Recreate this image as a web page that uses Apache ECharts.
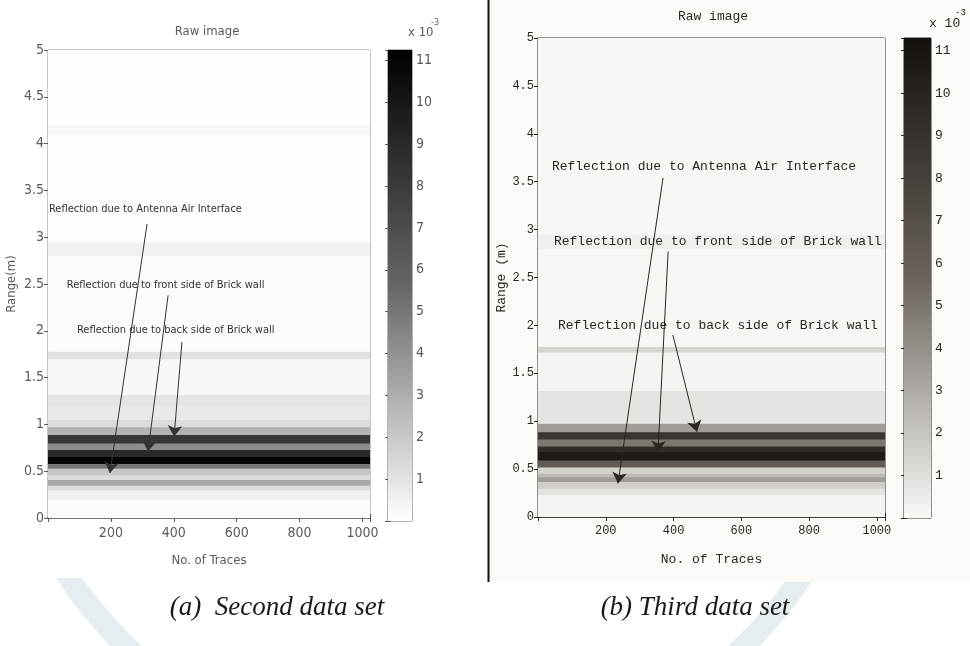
<!DOCTYPE html>
<html>
<head>
<meta charset="utf-8">
<script src="https://cdn.jsdelivr.net/npm/echarts@6/dist/echarts.min.js"></script>
<style>
  html, body { margin: 0; padding: 0; background: #fff; }
  #main { width: 970px; height: 646px; }
</style>
</head>
<body>
<div id="main"></div>
<script>
// traces along x, range (m) along y, amplitude in units of 1e-3
var traceSpan = [0, 1024];
var traceTicks = [200, 400, 600, 800, 1000];
var colorTicks = [1, 2, 3, 4, 5, 6, 7, 8, 9, 10, 11];

// (a) second data set: band edges (m) and amplitude of each band
var edgesA = [0, 0.20, 0.30, 0.35, 0.41, 0.46, 0.53, 0.58, 0.655, 0.73, 0.80, 0.89, 0.975,
  1.05, 1.20, 1.32, 1.70, 1.78, 2.80, 2.95, 4.10, 4.20, 5.00];
var ampA = [0.2, 0.6, 1.3, 3.2, 1.3, 2.1, 5.0, 11.0, 9.0, 4.2, 8.2, 2.8, 1.3,
  0.8, 0.97, 0.3, 1.1, 0.15, 0.5, 0.08, 0.3, 0.05];
var cmaxA = 11.25;

// (b) third data set
var edgesB = [0, 0.23, 0.30, 0.37, 0.42, 0.456, 0.52, 0.595, 0.68, 0.74, 0.81, 0.89, 0.978,
  1.32, 1.72, 1.78, 2.80, 2.95, 5.00];
var ampB = [0.2, 0.9, 1.6, 3.5, 2.4, 1.5, 6.2, 10.6, 9.4, 4.9, 8.8, 3.5,
  0.8, 0.2, 1.4, 0.12, 0.4, 0.08];
var cmaxB = 11.3;

// annotation: [label, text anchor [trace, range], arrow start, arrow end]
var notesA = [
  ['Reflection due to Antenna Air Interface', [3, 3.30], [315, 3.14], [197, 0.48]],
  ['Reflection due to front side of Brick wall', [60, 2.49], [382, 2.38], [318, 0.71]],
  ['Reflection due to back side of Brick wall', [92, 2.01], [426, 1.88], [401, 0.87]]
];
var notesB = [
  ['Reflection due to Antenna Air Interface', [41, 3.66], [369, 3.54], [236, 0.35]],
  ['Reflection due to front side of Brick wall', [47, 2.87], [384, 2.77], [354, 0.68]],
  ['Reflection due to back side of Brick wall', [59, 2.00], [398, 1.90], [469, 0.89]]
];

var grayA = ['#ffffff', '#666666', '#000000'];
var grayB = ['#fbf9f6', '#6a635d', '#14100d'];

var fontA = '"Liberation Sans Narrow", "DejaVu Sans Condensed", "Liberation Sans", sans-serif';
var fontB = '"Liberation Mono", "DejaVu Sans Mono", monospace';

function bands(edges, amp) {
  var out = [];
  for (var i = 0; i < amp.length; i++) out.push([edges[i], edges[i + 1], amp[i]]);
  return out;
}

function bandItem(params, api) {
  var p0 = api.coord([traceSpan[0], api.value(1)]);
  var p1 = api.coord([traceSpan[1], api.value(0)]);
  return {
    type: 'rect',
    shape: { x: p0[0], y: p0[1], width: p1[0] - p0[0], height: p1[1] - p0[1] + 0.4 },
    style: { fill: api.visual('color') }
  };
}

function cbarItem(colors) {
  return function (params, api) {
    var p0 = api.coord([0, api.value(1)]);
    var p1 = api.coord([1, api.value(0)]);
    return {
      type: 'rect',
      shape: { x: p0[0], y: p0[1], width: p1[0] - p0[0], height: p1[1] - p0[1] },
      style: {
        fill: new echarts.graphic.LinearGradient(0, 0, 0, 1, [
          { offset: 0, color: colors[2] }, { offset: 0.5, color: colors[1] }, { offset: 1, color: colors[0] }
        ])
      }
    };
  };
}

function traceLabel(v) { return traceTicks.indexOf(v) >= 0 ? String(v) : ''; }
function colorLabel(v) { return colorTicks.indexOf(Math.round(v * 1000) / 1000) >= 0 ? String(v) : ''; }

function notesSeries(notes, xi, yi, font, size, color) {
  return {
    type: 'scatter', xAxisIndex: xi, yAxisIndex: yi, data: [], silent: true,
    markLine: {
      silent: true, animation: false,
      symbol: ['none', 'arrow'], symbolSize: 11,
      lineStyle: { color: color, width: 1, type: 'solid' },
      itemStyle: { color: color },
      label: { show: false },
      data: notes.map(function (n) { return [{ coord: n[2] }, { coord: n[3] }]; })
    },
    markPoint: {
      silent: true, animation: false, symbol: 'circle', symbolSize: 0,
      label: { show: true, position: 'right', distance: 0, formatter: '{b}',
        color: color, fontFamily: font, fontSize: size },
      data: notes.map(function (n) { return { name: n[0], coord: n[1] }; })
    }
  };
}

function plotX(grid, pos, col, font, size, withLabels) {
  return {
    gridIndex: grid, type: 'value', position: pos, min: traceSpan[0], max: traceSpan[1], interval: 200,
    axisLine: { show: pos === 'bottom', lineStyle: { color: col, width: 1.5 } },
    axisTick: { show: true, inside: true, length: 4, lineStyle: { color: col } },
    axisLabel: { show: withLabels, formatter: traceLabel, color: col, fontFamily: font, fontSize: size, margin: 8 },
    splitLine: { show: false },
    name: withLabels ? 'No. of Traces' : '', nameLocation: 'middle', nameGap: 36,
    nameTextStyle: { color: col, fontFamily: font, fontSize: 13 }
  };
}

function plotY(grid, pos, col, font, size, withLabels, name, gap) {
  return {
    gridIndex: grid, type: 'value', position: pos, min: 0, max: 5, interval: 0.5,
    axisLine: { show: false },
    axisTick: { show: true, inside: true, length: 4, lineStyle: { color: col } },
    axisLabel: { show: withLabels, color: col, fontFamily: font, fontSize: size, margin: 4 },
    splitLine: { show: false },
    name: withLabels ? name : '', nameLocation: 'middle', nameGap: gap, nameRotate: 90,
    nameTextStyle: { color: col, fontFamily: font, fontSize: 13 }
  };
}

function cbarY(grid, pos, cmax, col, font, size, withLabels) {
  return {
    gridIndex: grid, type: 'value', position: pos, min: 0, max: cmax, interval: 1,
    axisLine: { show: false },
    axisTick: { show: true, inside: true, length: 3, lineStyle: { color: col } },
    axisLabel: { show: withLabels, formatter: colorLabel, color: col, fontFamily: font, fontSize: size, margin: 4 },
    splitLine: { show: false }
  };
}

var colA = '#5a5a5a', colB = '#2a2622';

var chart = echarts.init(document.getElementById('main'));
chart.setOption({
  animation: false,
  backgroundColor: '#ffffff',
  grid: [
    { left: 48, top: 50, width: 322, height: 468, show: true, borderColor: '#8c8c8c', borderWidth: 1 },
    { left: 388, top: 50, width: 24, height: 471, show: true, borderColor: '#666', borderWidth: 1 },
    { left: 538, top: 38, width: 347, height: 479, show: true, borderColor: colB, borderWidth: 1 },
    { left: 904, top: 38, width: 27, height: 480, show: true, borderColor: colB, borderWidth: 1 }
  ],
  xAxis: [
    plotX(0, 'bottom', colA, fontA, 14, true),
    plotX(0, 'top', colA, fontA, 14, false),
    { gridIndex: 1, type: 'value', min: 0, max: 1, show: false },
    plotX(2, 'bottom', colB, fontB, 12, true),
    plotX(2, 'top', colB, fontB, 12, false),
    { gridIndex: 3, type: 'value', min: 0, max: 1, show: false }
  ],
  yAxis: [
    plotY(0, 'left', colA, fontA, 14, true, 'Range(m)', 30),
    plotY(0, 'right', colA, fontA, 14, false),
    cbarY(1, 'right', cmaxA, colA, fontA, 14, true),
    cbarY(1, 'left', cmaxA, colA, fontA, 14, false),
    plotY(2, 'left', colB, fontB, 12, true, 'Range (m)', 30),
    plotY(2, 'right', colB, fontB, 12, false),
    cbarY(3, 'right', cmaxB, colB, fontB, 13, true),
    cbarY(3, 'left', cmaxB, colB, fontB, 13, false)
  ],
  visualMap: [
    { type: 'continuous', show: false, seriesIndex: 0, dimension: 2, min: 0, max: cmaxA, inRange: { color: grayA } },
    { type: 'continuous', show: false, seriesIndex: 3, dimension: 2, min: 0, max: cmaxB, inRange: { color: grayB } }
  ],
  series: [
    { type: 'custom', xAxisIndex: 0, yAxisIndex: 0, renderItem: bandItem, data: bands(edgesA, ampA), silent: true, clip: true },
    { type: 'custom', xAxisIndex: 2, yAxisIndex: 2, renderItem: cbarItem(grayA), data: [[0, cmaxA]], silent: true },
    notesSeries(notesA, 0, 0, fontA, 11, '#333'),
    { type: 'custom', xAxisIndex: 3, yAxisIndex: 4, renderItem: bandItem, data: bands(edgesB, ampB), silent: true, clip: true },
    { type: 'custom', xAxisIndex: 5, yAxisIndex: 6, renderItem: cbarItem(grayB), data: [[0, cmaxB]], silent: true },
    notesSeries(notesB, 3, 4, fontB, 13, colB)
  ],
  graphic: [
    { type: 'circle', z: -30, silent: true, shape: { cx: 435, cy: 330, r: 442 },
      style: { fill: 'none', stroke: '#e6edf1', lineWidth: 22 } },
    { type: 'rect', z: -20, silent: true, shape: { x: 0, y: 0, width: 480, height: 578 }, style: { fill: '#ffffff' } },
    { type: 'rect', z: -20, silent: true, shape: { x: 489, y: 0, width: 481, height: 582 }, style: { fill: '#fcfaf7' } },
    { type: 'rect', z: -10, silent: true, shape: { x: 487.5, y: 0, width: 2, height: 582 }, style: { fill: '#111' } },
    { type: 'text', x: 207, y: 32, style: { text: 'Raw image', font: '13px ' + fontA, fill: colA, align: 'center', verticalAlign: 'middle' } },
    { type: 'text', x: 408, y: 33, style: { text: 'x 10', font: '13px ' + fontA, fill: colA, verticalAlign: 'middle' } },
    { type: 'text', x: 431, y: 23, style: { text: '-3', font: '9px ' + fontA, fill: colA, verticalAlign: 'middle' } },
    { type: 'text', x: 713, y: 17, style: { text: 'Raw image', font: '13px ' + fontB, fill: colB, align: 'center', verticalAlign: 'middle' } },
    { type: 'text', x: 929, y: 24, style: { text: 'x 10', font: '13px ' + fontB, fill: colB, verticalAlign: 'middle' } },
    { type: 'text', x: 955, y: 13, style: { text: '-3', font: '9px ' + fontB, fill: colB, verticalAlign: 'middle' } },
    { type: 'text', x: 277, y: 608, style: { text: '(a)  Second data set', font: 'italic 27px "Liberation Serif", serif', fill: '#1a1a1a', align: 'center', verticalAlign: 'middle' } },
    { type: 'text', x: 695, y: 608, style: { text: '(b) Third data set', font: 'italic 27px "Liberation Serif", serif', fill: '#1a1a1a', align: 'center', verticalAlign: 'middle' } }
  ]
});
</script>
</body>
</html>
